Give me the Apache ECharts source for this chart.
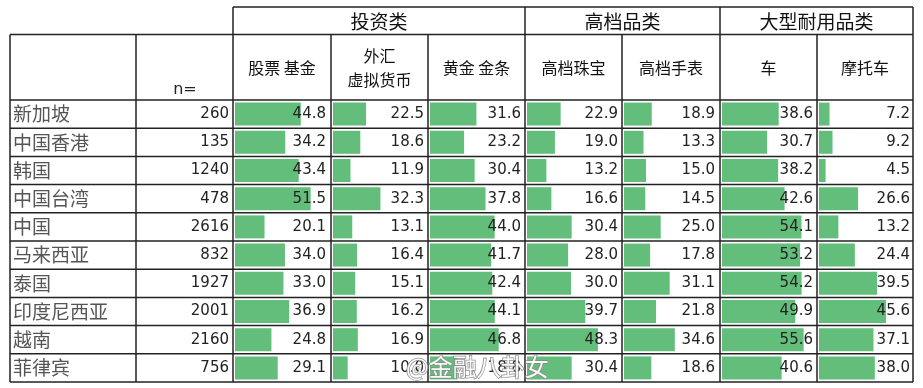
<!DOCTYPE html>
<html>
<head>
<meta charset="utf-8">
<script src="https://cdn.jsdelivr.net/npm/echarts@6/dist/echarts.min.js"></script>
<style>
html,body{margin:0;padding:0;background:#fff;}
#chart{width:923px;height:388px;}
</style>
</head>
<body>
<div id="chart"></div>
<script>
// ---- data ----
var countries = ['新加坡','中国香港','韩国','中国台湾','中国','马来西亚','泰国','印度尼西亚','越南','菲律宾'];
var sampleN = [260,135,1240,478,2616,832,1927,2001,2160,756];
var groupHeaders = ['投资类','高档品类','大型耐用品类'];
var groupSpans = [3,2,2];
var columnHeaders = ['股票 基金','外汇\n虚拟货币','黄金 金条','高档珠宝','高档手表','车','摩托车'];
var stocks  = [44.8,34.2,43.4,51.5,20.1,34.0,33.0,36.9,24.8,29.1];
var forex   = [22.5,18.6,11.9,32.3,13.1,16.4,15.1,16.2,16.9,10.0];
var gold    = [31.6,23.2,30.4,37.8,44.0,41.7,42.4,44.1,46.8,18.8];
var jewelry = [22.9,19.0,13.2,16.6,30.4,28.0,30.0,39.7,48.3,30.4];
var watches = [18.9,13.3,15.0,14.5,25.0,17.8,31.1,21.8,34.6,18.6];
var cars    = [38.6,30.7,38.2,42.6,54.1,53.2,54.2,49.9,55.6,40.6];
var motos   = [7.2,9.2,4.5,26.6,13.2,24.4,39.5,45.6,37.1,38.0];
var seriesValues = [stocks, forex, gold, jewelry, watches, cars, motos];
var watermark = '@金融八卦女';

// ---- layout ----
var colX = [10,136,233,331,428,525,622,720,817,913];
var groupTop = 7, headTop = 34.5, bodyTop = 100, bodyBottom = 382;
var rowH = (bodyBottom - bodyTop) / countries.length;
var GREEN = '#63BE7B', LINE = '#222';
var CJK = '"Noto Sans CJK SC", sans-serif';
var NUM = '"DejaVu Sans", sans-serif';

var grids = [], xAxes = [], yAxes = [], series = [];

// names column
grids.push({left: colX[0], top: bodyTop, width: colX[1]-colX[0], height: bodyBottom-bodyTop});
xAxes.push({gridIndex: 0, type: 'value', min: 0, max: 1, show: false});
yAxes.push({gridIndex: 0, type: 'category', inverse: true, data: countries, position: 'left',
  axisLine: {show: false}, axisTick: {show: false}, splitLine: {show: false},
  axisLabel: {inside: true, margin: 3, color: '#555', fontSize: 19, fontFamily: CJK, align: 'left'}});
// n column
grids.push({left: colX[1], top: bodyTop, width: colX[2]-colX[1], height: bodyBottom-bodyTop});
xAxes.push({gridIndex: 1, type: 'value', min: 0, max: 1, show: false});
yAxes.push({gridIndex: 1, type: 'category', inverse: true, data: countries, position: 'right',
  axisLine: {show: false}, axisTick: {show: false}, splitLine: {show: false},
  axisLabel: {inside: true, margin: 4, color: '#222', fontSize: 15, fontFamily: NUM,
    formatter: function (v, i) { return String(sampleN[i]); }}});

// data columns
seriesValues.forEach(function (vals, k) {
  var gi = k + 2;
  var left = colX[gi] + 2;
  grids.push({left: left, top: bodyTop, width: 94, height: bodyBottom-bodyTop});
  xAxes.push({gridIndex: gi, type: 'value', min: 0, max: 64, show: false});
  yAxes.push({gridIndex: gi, type: 'category', inverse: true, data: countries, position: 'right', z: 5,
    axisLine: {show: false}, axisTick: {show: false}, splitLine: {show: false},
    axisLabel: {inside: true, margin: 3, color: '#222', fontSize: 15, fontFamily: NUM,
      formatter: (function (arr) { return function (v, i) { return arr[i].toFixed(1); }; })(vals)}});
  series.push({type: 'bar', xAxisIndex: gi, yAxisIndex: gi, data: vals, barWidth: 23,
    itemStyle: {color: GREEN}, silent: true, z: 2});
});

// ---- table lines & headers ----
var g = [];
function line(x1,y1,x2,y2){ g.push({type:'line', shape:{x1:x1,y1:y1,x2:x2,y2:y2}, style:{stroke:LINE, lineWidth:1.5}, z:10}); }
line(colX[2], groupTop, colX[9], groupTop);
line(colX[0], headTop, colX[9], headTop);
for (var r = 0; r <= countries.length; r++) {
  var y = bodyTop + r*rowH;
  line(colX[0], y, colX[9], y);
}
for (var c = 0; c < colX.length; c++) {
  line(colX[c], headTop, colX[c], bodyBottom);
}
var gx = 2;
line(colX[2], groupTop, colX[2], headTop);
groupSpans.forEach(function (s, i) {
  var x0 = colX[gx], x1 = colX[gx+s];
  line(x1, groupTop, x1, headTop);
  g.push({type:'text', x:(x0+x1)/2, y:(groupTop+headTop)/2+1, z:11,
    style:{text: groupHeaders[i], fill:'#111', font:'19px ' + CJK, align:'center', verticalAlign:'middle'}});
  gx += s;
});
columnHeaders.forEach(function (h, k) {
  var x0 = colX[k+2], x1 = colX[k+3];
  g.push({type:'text', x:(x0+x1)/2, y:(headTop+bodyTop)/2+1, z:11,
    style:{text: h, fill:'#111', font:'16px ' + CJK, align:'center', verticalAlign:'middle', lineHeight:24}});
});
g.push({type:'text', x:185, y:90, z:11,
  style:{text:'n=', fill:'#222', font:'16px ' + NUM, align:'center', verticalAlign:'middle'}});
g.push({type:'text', x:406, y:367, z:20,
  style:{text: watermark, fill:'#fff', stroke:'#888', lineWidth:1.5, font:'24px ' + CJK, align:'left', verticalAlign:'middle', opacity:0.95}});

var chart = echarts.init(document.getElementById('chart'), null, {renderer:'canvas'});
chart.setOption({
  animation: false,
  backgroundColor: '#fff',
  grid: grids,
  xAxis: xAxes,
  yAxis: yAxes,
  series: series,
  graphic: g
});
</script>
</body>
</html>
